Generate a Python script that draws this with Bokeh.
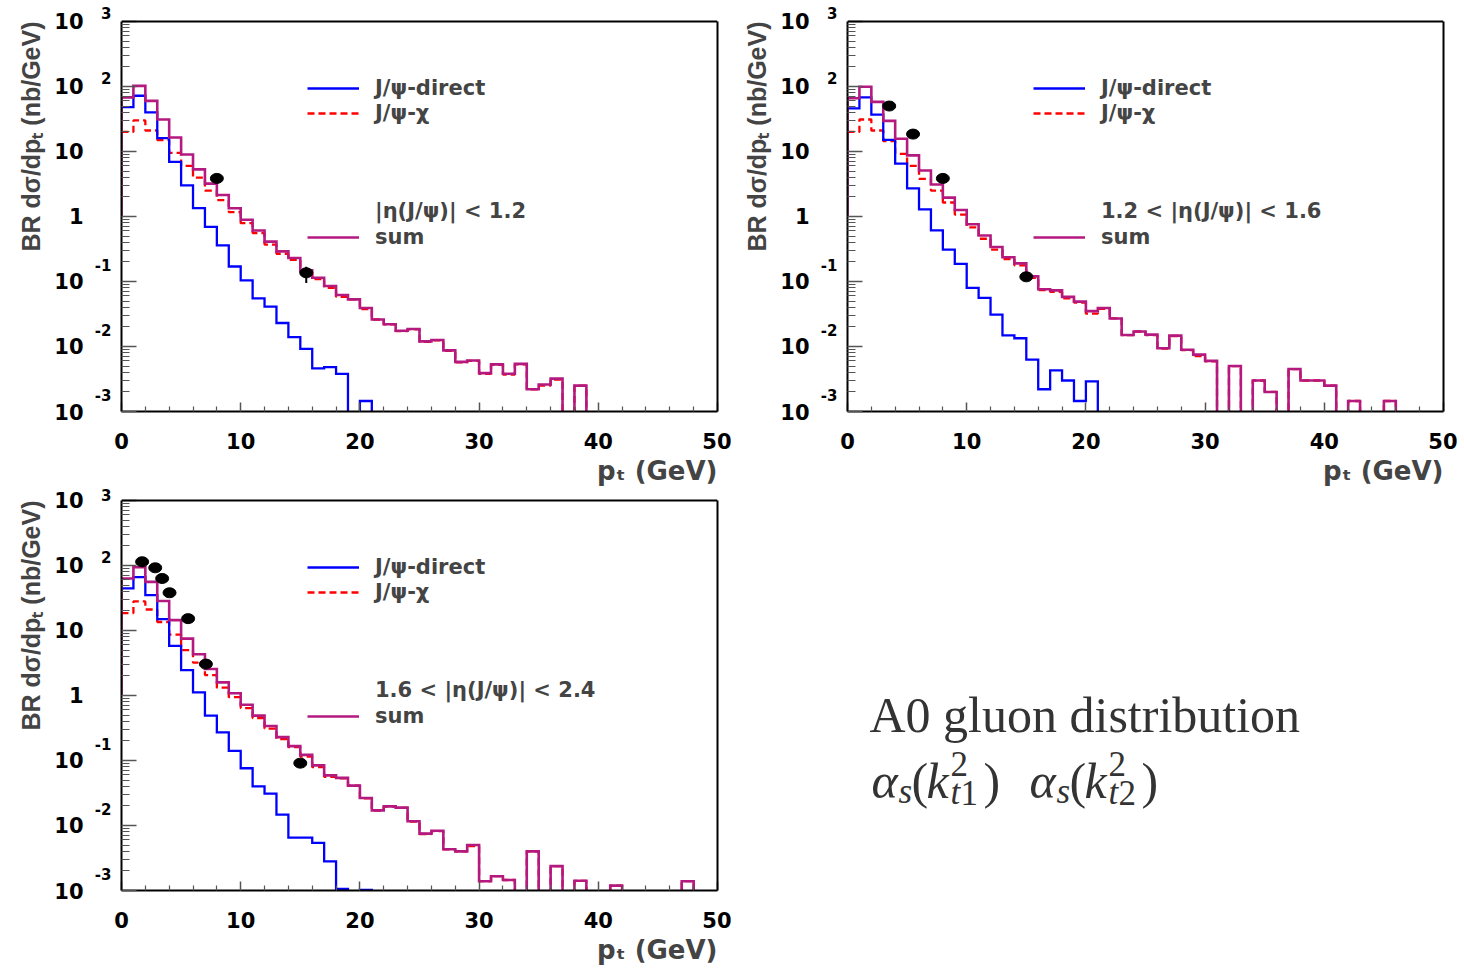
import numpy as np
from bokeh.plotting import figure
from bokeh.models import Range1d, FixedTicker, Legend, LegendItem, Label, LogAxis, Title, Span
from bokeh.layouts import column, row
from bokeh.embed import file_html
from bokeh.resources import INLINE

# ---------------- data ----------------
EDGES = list(range(0, 51))          # pt bin edges, 1 GeV bins, 0..50 GeV

# panel 1 : |eta| < 1.2
direct_1 = [48, 72, 40, 16, 6.9, 3.0, 1.34, 0.69, 0.36, 0.17, 0.104, 0.055, 0.041, 0.023, 0.0139,
            0.0092, 0.0046, 0.0048, 0.0038, 0, 0.00145] + [0] * 29
chi_1 = [20, 30, 21, 15, 9.5, 6.0, 3.96, 2.5, 1.78, 1.17, 0.79, 0.555, 0.37, 0.267, 0.216, 0.139,
         0.109, 0.080, 0.058, 0.053, 0.0375, 0.026, 0.022, 0.0172, 0.0184, 0.0118, 0.0124, 0.0086,
         0.0057, 0.0060, 0.0038, 0.0052, 0.0037, 0.0053, 0.0022, 0.0025, 0.0031, 0, 0.0025] + [0] * 11
sum_1 = [68, 102, 60, 31, 16.4, 9.0, 5.3, 3.2, 2.14, 1.34, 0.89, 0.61, 0.41, 0.29, 0.23, 0.148,
         0.114, 0.085, 0.062, 0.053, 0.039, 0.026, 0.022, 0.0175, 0.0186, 0.012, 0.0126, 0.0087,
         0.0058, 0.0061, 0.0039, 0.0053, 0.0038, 0.0054, 0.0022, 0.0026, 0.0032, 0, 0.0025] + [0] * 11
data_x_1 = [8.0, 15.5]
data_y_1 = [3.85, 0.136]
data_lo_1 = [3.85, 0.095]
data_hi_1 = [3.85, 0.168]
data_xerr_1 = [0.0, 0.5]

# panel 2 : 1.2 < |eta| < 1.6
direct_2 = [46, 68, 37, 15.1, 6.5, 2.7, 1.29, 0.61, 0.31, 0.187, 0.080, 0.056, 0.031, 0.0148, 0.0134,
            0.0063, 0.0022, 0.0043, 0.0030, 0.00145, 0.0029] + [0] * 29
chi_2 = [20, 31, 21, 14.4, 9.2, 6.0, 3.8, 2.5, 1.64, 1.07, 0.68, 0.454, 0.31, 0.221, 0.177, 0.114,
         0.074, 0.069, 0.055, 0.0475, 0.032, 0.038, 0.027, 0.015, 0.017, 0.015, 0.0093, 0.0145,
         0.0088, 0.0071, 0.0059, 0, 0.0050, 0, 0.0030, 0.0020, 0, 0.0045, 0.0030, 0.0030, 0.0025,
         0, 0.00145, 0, 0, 0.00145, 0, 0, 0, 0]
sum_2 = [66, 99, 58, 29.5, 15.7, 8.7, 5.1, 3.1, 1.95, 1.26, 0.76, 0.51, 0.34, 0.236, 0.19, 0.12,
         0.076, 0.073, 0.058, 0.049, 0.035, 0.039, 0.027, 0.015, 0.017, 0.0152, 0.0094, 0.0147,
         0.0089, 0.0075, 0.0060, 0, 0.0050, 0, 0.0030, 0.0020, 0, 0.0045, 0.0030, 0.0030, 0.0025,
         0, 0.00145, 0, 0, 0.00145, 0, 0, 0, 0]
data_x_2 = [3.5, 5.5, 8.0, 15.0]
data_y_2 = [50, 18.5, 3.85, 0.118]
data_lo_2 = data_y_2
data_hi_2 = data_y_2
data_xerr_2 = [0.0, 0.0, 0.0, 0.0]

# panel 3 : 1.6 < |eta| < 2.4
direct_3 = [44.5, 66, 35, 14.9, 5.8, 2.46, 1.12, 0.49, 0.27, 0.141, 0.076, 0.040, 0.031, 0.0147,
            0.0065, 0.0065, 0.0054, 0.0028, 0.00106, 0, 0.00102] + [0] * 29
chi_3 = [18.5, 28, 21, 13.5, 8.6, 5.0, 3.2, 2.06, 1.32, 0.94, 0.64, 0.45, 0.31, 0.214, 0.16, 0.115,
         0.079, 0.056, 0.053, 0.041, 0.0262, 0.017, 0.0195, 0.0186, 0.0115, 0.0074, 0.0082, 0.0043,
         0.0040, 0.0048, 0.00139, 0.00166, 0.00145, 0, 0.0040, 0, 0.00237, 0, 0.00141, 0,
         0, 0.00119, 0, 0, 0, 0, 0, 0.00139, 0, 0]
sum_3 = [63, 94, 56, 28.4, 14.4, 7.5, 4.3, 2.55, 1.59, 1.08, 0.72, 0.49, 0.34, 0.229, 0.166, 0.122,
         0.084, 0.059, 0.054, 0.041, 0.0265, 0.0171, 0.0197, 0.0188, 0.0116, 0.0075, 0.0083, 0.0043,
         0.0040, 0.0050, 0.00139, 0.00166, 0.00145, 0, 0.0040, 0, 0.00237, 0, 0.00141, 0,
         0, 0.00119, 0, 0, 0, 0, 0, 0.00139, 0, 0]
data_x_3 = [1.73, 2.83, 3.41, 4.03, 5.59, 7.08, 15.0]
data_y_3 = [114, 92, 63, 38, 15.2, 3.04, 0.091]
data_lo_3 = [114, 92, 63, 38, 15.2, 3.04, 0.080]
data_hi_3 = data_y_3
data_xerr_3 = [0.0] * 7

X_TICKS = [0, 10, 20, 30, 40, 50]
X_MINOR = [v for v in range(2, 50, 2) if v % 10]
Y_TICKS = [1e-3, 1e-2, 1e-1, 1, 10, 100, 1000]
Y_TICK_BASE = ["10", "10", "10", "1", "10", "10", "10"]
Y_TICK_EXP = ["-3", "-2", "-1", "", "", "2", "3"]
Y_MINOR = [m * 10.0 ** k for k in range(-3, 3) for m in range(2, 10)]
Y_MIN, Y_MAX = 1e-3, 1e3

LEG_DIRECT = "J/\u03c8-direct"
LEG_CHI = "J/\u03c8-\u03c7"
LEG_SUM = "sum"
ETA_TEXTS = ["|\u03b7(J/\u03c8)| < 1.2", "1.2 < |\u03b7(J/\u03c8)| < 1.6", "1.6 < |\u03b7(J/\u03c8)| < 2.4"]
X_TITLE = "p\u209c (GeV)"
Y_TITLE = "BR d\u03c3/dp\u209c (nb/GeV)"

# ---------------- style ----------------
BLUE = "#0000ff"
RED = "#ff0000"
MAGENTA = "#b4197f"
FLOOR = 1e-6        # stand-in for empty bins (below the axis range, clipped)
SUM_BASE = 1.0      # where ROOT starts the left edge of the summed histogram
BOLD_FONT = "DejaVu Sans"
FRAME_W = 596
FRAME_H = 392                     # height of the drawn box (1e-3 .. 1e3)
DEC_PX = FRAME_H / 6.0            # pixels per decade
EXT_PX = 10                       # headroom above the box so raised exponents can be drawn
FRAME_H_EXT = FRAME_H + EXT_PX
Y_TOP = 10 ** (3 + EXT_PX / DEC_PX)
POS_RAISE_PX, NEG_RAISE_PX = 8, 17   # ROOT raises exponents above their tick

EXP_POS = []
EXP_TXT = []
for t, e in zip(Y_TICKS, Y_TICK_EXP):
    if e:
        raise_px = NEG_RAISE_PX if e.startswith("-") else POS_RAISE_PX
        EXP_POS.append(t * 10 ** (raise_px / DEC_PX))
        EXP_TXT.append(e)


def hist_xy(values, base=None):
    v = np.asarray(values, dtype=float)
    v = np.where(v > 0, v, FLOOR)
    xs = list(EDGES)
    ys = list(v) + [v[-1]]
    if base is not None:
        xs = [EDGES[0]] + xs
        ys = [base] + ys
    return xs, ys


def style_axis(ax, size, standoff):
    ax.major_tick_out = 0
    ax.minor_tick_out = 0
    ax.major_label_text_font = BOLD_FONT
    ax.major_label_text_font_style = "bold"
    ax.major_label_text_font_size = size
    ax.major_label_text_color = "black"
    ax.major_label_standoff = standoff


def label_axis(ticks, labels, size, standoff):
    ax = LogAxis(ticker=FixedTicker(ticks=ticks, minor_ticks=[]),
                 major_label_overrides=dict(zip(ticks, labels)))
    style_axis(ax, size, standoff)
    ax.major_tick_in = 0
    ax.axis_line_color = None
    ax.major_tick_line_color = None
    ax.minor_tick_line_color = None
    return ax


def make_panel(direct, chi, summ, dx, dy, dlo, dhi, dxerr, eta_text, left, right, top, bottom):
    p = figure(width=left + FRAME_W + right, height=top + FRAME_H_EXT + bottom,
               x_range=Range1d(0, 50), y_range=Range1d(Y_MIN, Y_TOP),
               y_axis_type="log", toolbar_location=None, output_backend="svg",
               min_border_left=left, min_border_right=right, min_border_top=top, min_border_bottom=bottom)
    p.title = None
    p.grid.visible = False
    p.outline_line_color = None
    p.background_fill_color = "white"
    p.border_fill_color = "white"

    xa = p.xaxis[0]
    xa.ticker = FixedTicker(ticks=X_TICKS, minor_ticks=X_MINOR)
    ya = p.yaxis[0]
    ya.ticker = FixedTicker(ticks=Y_TICKS, minor_ticks=Y_MINOR)
    ya.bounds = (Y_MIN, Y_MAX)
    ya.major_label_overrides = {t: "" for t in Y_TICKS}
    style_axis(xa, "21px", 21)
    style_axis(ya, "21px", 0)
    for ax in (xa, ya):
        ax.axis_line_width = 2
        ax.axis_line_color = "black"
        ax.major_tick_line_color = "#555555"
        ax.minor_tick_line_color = "#555555"
        ax.major_tick_line_width = 1.5
        ax.minor_tick_line_width = 1.2
    xa.major_tick_in = 9
    xa.minor_tick_in = 5
    ya.major_tick_in = 15
    ya.minor_tick_in = 8

    # right and top edges of the box
    ra = LogAxis(ticker=FixedTicker(ticks=[], minor_ticks=[]), bounds=(Y_MIN, Y_MAX),
                 axis_line_width=2, axis_line_color="black", major_tick_line_color=None,
                 minor_tick_line_color=None, major_label_text_font_size="0px")
    p.add_layout(ra, "right")
    p.add_layout(Span(location=Y_MAX, dimension="width", line_color="black", line_width=2))

    # ROOT-style y labels: exponents next to the frame, "10" further out
    p.add_layout(label_axis(EXP_POS, EXP_TXT, "15px", 10), "left")
    p.add_layout(label_axis(Y_TICKS, Y_TICK_BASE, "21px", 8), "left")

    p.add_layout(Title(text=X_TITLE, align="right", text_font=BOLD_FONT, text_font_style="bold",
                       text_font_size="26px", standoff=5), "below")
    p.add_layout(Title(text=Y_TITLE, align="right", text_font="Liberation Sans", text_font_style="bold",
                       text_font_size="25px", standoff=13, offset=EXT_PX), "left")

    x, y = hist_xy(chi)
    r_chi = p.step(x, y, mode="after", line_color=RED, line_width=2.3, line_dash="7 4")
    x, y = hist_xy(direct)
    r_dir = p.step(x, y, mode="after", line_color=BLUE, line_width=2.3, line_join="miter")
    x, y = hist_xy(summ, base=SUM_BASE)
    r_sum = p.step(x, y, mode="after", line_color=MAGENTA, line_width=2.6, line_join="miter")

    dx_a = np.asarray(dx)
    dxe = np.asarray(dxerr)
    p.segment(x0=dx, y0=dlo, x1=dx, y1=dhi, line_color="black", line_width=2)
    p.segment(x0=list(dx_a - dxe), y0=dy, x1=list(dx_a + dxe), y1=dy, line_color="black", line_width=2)
    p.ellipse(x=dx, y=dy, width=13, height=10, width_units="screen", height_units="screen",
              fill_color="black", line_color="black")

    common = dict(glyph_width=52, glyph_height=20, label_height=20, label_standoff=16, padding=0,
                  margin=0, border_line_alpha=0, background_fill_alpha=0,
                  label_text_font=BOLD_FONT, label_text_font_style="bold",
                  label_text_font_size="21px")
    leg1 = Legend(items=[LegendItem(label=LEG_DIRECT, renderers=[r_dir]),
                         LegendItem(label=LEG_CHI, renderers=[r_chi])],
                  location=(186, 286), spacing=1, **common)
    leg2 = Legend(items=[LegendItem(label=eta_text, renderers=[]),
                         LegendItem(label=LEG_SUM, renderers=[r_sum])],
                  location=(186, 162), spacing=2, **common)
    p.add_layout(leg1)
    p.add_layout(leg2)
    return p


ROW1 = dict(top=21 - EXT_PX, bottom=75)
ROW2 = dict(top=12 - EXT_PX, bottom=75)
p1 = make_panel(direct_1, chi_1, sum_1, data_x_1, data_y_1, data_lo_1, data_hi_1, data_xerr_1,
                ETA_TEXTS[0], 121, 14, **ROW1)
p2 = make_panel(direct_2, chi_2, sum_2, data_x_2, data_y_2, data_lo_2, data_hi_2, data_xerr_2,
                ETA_TEXTS[1], 116, 14, **ROW1)
p3 = make_panel(direct_3, chi_3, sum_3, data_x_3, data_y_3, data_lo_3, data_hi_3, data_xerr_3,
                ETA_TEXTS[2], 121, 14, **ROW2)

# ---------------- text panel (frame in pixel units, same borders as its neighbour) ----------------
p4 = figure(width=116 + FRAME_W + 14, height=ROW2["top"] + FRAME_H_EXT + ROW2["bottom"],
            x_range=Range1d(0, FRAME_W), y_range=Range1d(0, FRAME_H_EXT),
            toolbar_location=None, output_backend="svg",
            min_border_left=116, min_border_right=14, min_border_top=ROW2["top"],
            min_border_bottom=ROW2["bottom"], x_axis_location=None, y_axis_location=None)
p4.title = None
p4.grid.visible = False
p4.outline_line_color = None

SERIF = "Liberation Serif"
TXT = "#333333"
MAIN = "50px"
SCRIPT = "35px"


def lab(x, y, text, size, italic=False):
    p4.add_layout(Label(x=x, y=y, text=text, text_font=SERIF, text_font_size=size,
                        text_font_style="italic" if italic else "normal", text_color=TXT,
                        text_baseline="alphabetic", text_align="left"))


lab(22, 176, "A0 gluon distribution", "50px")
BASE = 110
for gx, sub in ((24, "t1"), (182, "t2")):
    lab(gx, BASE, "\u03b1", MAIN, italic=True)
    lab(gx + 27, BASE - 11, "s", SCRIPT, italic=True)
    lab(gx + 40, BASE, "(", MAIN)
    lab(gx + 55, BASE, "k", MAIN, italic=True)
    lab(gx + 79, BASE + 17, "2", SCRIPT)
    lab(gx + 79, BASE - 12, sub[0], SCRIPT, italic=True)
    lab(gx + 89, BASE - 12, sub[1], SCRIPT)
    lab(gx + 112, BASE, ")", MAIN)

layout = column(row(p1, p2), row(p3, p4))
open("out.html", "w").write(file_html(layout, INLINE))
